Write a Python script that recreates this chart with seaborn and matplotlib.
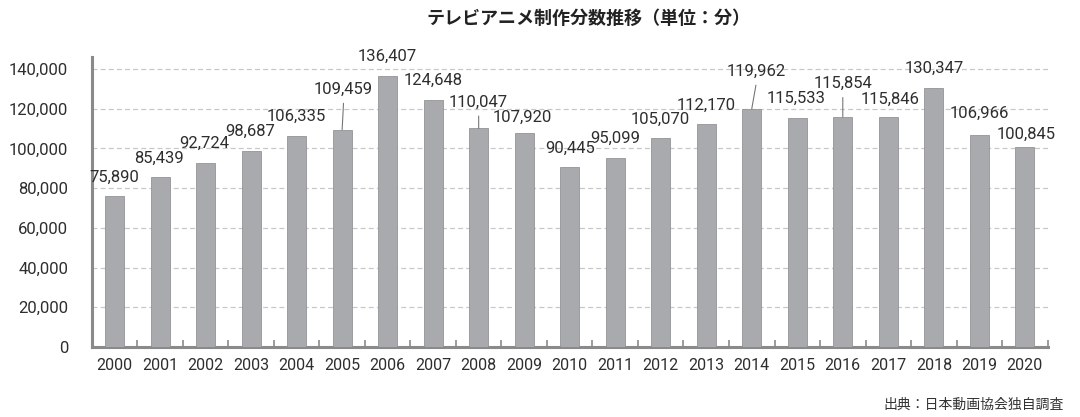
import numpy as np
import pandas as pd
import matplotlib
matplotlib.use("Agg")
import matplotlib.pyplot as plt
import seaborn as sns

# data
years = [str(y) for y in range(2000, 2021)]
minutes = [75890, 85439, 92724, 98687, 106335, 109459, 136407, 124648, 110047, 107920,
           90445, 95099, 105070, 112170, 119962, 115533, 115854, 115846, 130347, 106966,
           100845]
yticks = [0, 20000, 40000, 60000, 80000, 100000, 120000, 140000]

title = "テレビアニメ制作分数推移（単位：分）"
source = "出典：日本動画協会独自調査"

# label offsets in points from bar top (dx, dy)
label_off = [
    (0, 14), (-1, 14), (-1, 14), (-1, 14), (0, 14),
    (1, 29), (0, 14), (0, 14), (0, 19), (-1, 11),
    (0, 14), (0, 14), (0, 14), (0, 14), (3, 27),
    (-1, 14), (0, 24), (1, 13), (0, 14), (0, 15),
    (1, 9),
]
leader = [5, 8, 14, 16]   # these labels sit higher and get a thin line to the bar

num_font = ["Roboto", "DejaVu Sans"]

sns.set_theme(style="white")
plt.rcParams["font.family"] = ["Noto Sans CJK JP", "DejaVu Sans"]

df = pd.DataFrame({"year": years, "minutes": minutes})

fig = plt.figure(figsize=(10.8, 4.17), dpi=100)
ax = fig.add_axes([0.085, 0.168, 0.885, 0.695])

sns.barplot(data=df, x="year", y="minutes", color="#a9aaad", width=0.42,
            edgecolor="#939497", linewidth=0.6, saturation=1, ax=ax, zorder=3)

ax.set_xlim(-0.5, len(years) - 0.5)
ax.set_ylim(0, 146000)
ax.set_yticks(yticks)
ax.set_yticklabels([f"{v:,}" for v in yticks], family=num_font, fontsize=12)
ax.set_xticks(range(len(years)))
ax.set_xticklabels(years, family=num_font, fontsize=11.5)
ax.set_xlabel("")
ax.set_ylabel("")

for y in yticks[1:]:
    ax.axhline(y, color="#c8c8c8", lw=0.9, ls=(0, (4, 2.5)), zorder=1)

for s in ["top", "right"]:
    ax.spines[s].set_visible(False)
ax.spines["left"].set_color("#8a8a8a")
ax.spines["left"].set_linewidth(2.2)
ax.spines["bottom"].set_color("#8a8a8a")
ax.spines["bottom"].set_linewidth(2.2)

ax.tick_params(axis="both", length=0, colors="#2e2e2e")
ax.tick_params(axis="y", pad=17)
ax.tick_params(axis="x", pad=8)
ax.set_xticks(np.arange(-0.5, len(years) + 0.5), minor=True)
ax.tick_params(axis="x", which="minor", direction="in", length=5, width=1.2,
               color="#8a8a8a", bottom=True)

for i, v in enumerate(minutes):
    dx, dy = label_off[i]
    ax.annotate(f"{v:,}", xy=(i, v), xytext=(dx, dy), textcoords="offset points",
                ha="center", va="center", fontsize=12, color="#2e2e2e",
                family=num_font, zorder=5)
    if i in leader:
        ax.annotate("", xy=(i, v), xytext=(dx, dy - 10), textcoords="offset points",
                    arrowprops=dict(arrowstyle="-", color="#777777", lw=0.8,
                                    shrinkA=0, shrinkB=0))

fig.text(0.545, 0.955, title, ha="center", va="center", fontsize=13,
         fontweight="bold", color="#222222")
fig.text(0.985, 0.03, source, ha="right", va="center", fontsize=10, color="#333333")

fig.savefig("out.png", dpi=100)
